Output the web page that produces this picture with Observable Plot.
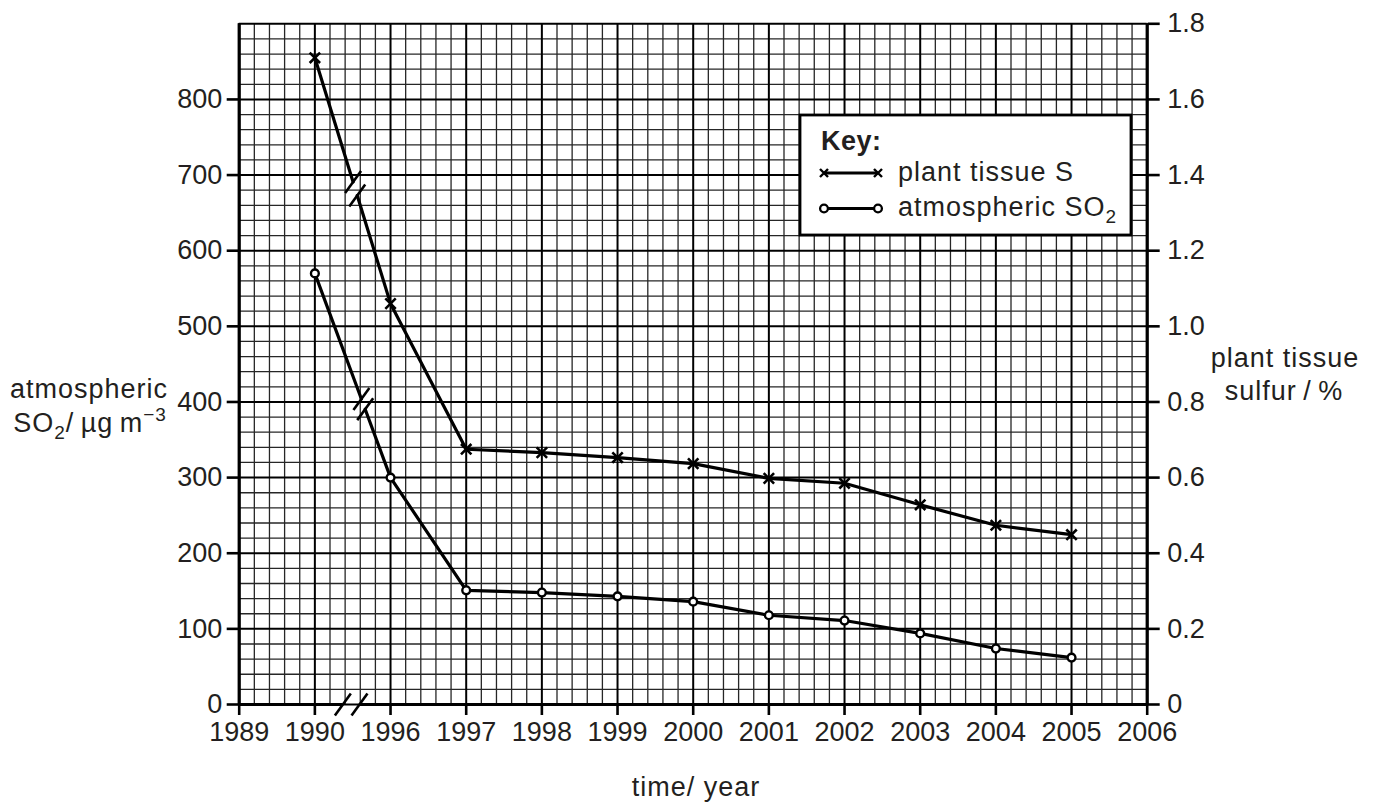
<!DOCTYPE html>
<html>
<head>
<meta charset="utf-8">
<script src="https://cdn.jsdelivr.net/npm/d3@7"></script>
<script src="https://cdn.jsdelivr.net/npm/@observablehq/plot@0.6"></script>
<style>
  body { margin: 0; background: #fff; }
  #wrap { width: 1375px; height: 806px; }
</style>
</head>
<body>
<div id="wrap"></div>
<script>
// ---------- data ----------
const yearLabels = ["1989", "1990", "1996", "1997", "1998", "1999", "2000", "2001", "2002", "2003", "2004", "2005", "2006"];
const dataYears  = ["1990", "1996", "1997", "1998", "1999", "2000", "2001", "2002", "2003", "2004", "2005"];
const plantS     = [1.71, 1.06, 0.675, 0.666, 0.653, 0.637, 0.598, 0.585, 0.528, 0.474, 0.449]; // % (right axis)
const atmSO2     = [570, 300, 151, 148, 143, 136, 118, 111, 94, 74, 62];                          // µg m-3 (left axis)
const leftTicks  = [0, 100, 200, 300, 400, 500, 600, 700, 800];
const rightTicks = [0, 0.2, 0.4, 0.6, 0.8, 1.0, 1.2, 1.4, 1.6, 1.8];
const leftMax = 900, rightMax = 1.8;
// axis-break markers (fractions of the 1990–1996 span / index positions on the x axis)
const axisBreak  = [1.37, 1.59];
const plantBreak = [0.505, 0.56];
const so2Break   = [0.615, 0.665];

// ---------- styling ----------
const INK = "#231f20";
const FONT = "'Liberation Sans', Arial, Helvetica, sans-serif";

const ratio = leftMax / rightMax;
const n = yearLabels.length;
const xi = yr => yearLabels.indexOf(yr);

const plantPts = dataYears.map((yr, i) => ({x: xi(yr), y: plantS[i] * ratio}));
const so2Pts   = dataYears.map((yr, i) => ({x: xi(yr), y: atmSO2[i]}));

function lerp(a, b, t) { return {x: a.x + t * (b.x - a.x), y: a.y + t * (b.y - a.y)}; }
function withBreak(pts, br) {
  const a = pts[0], b = pts[1];
  return [a, lerp(a, b, br[0]), {x: NaN, y: NaN}, lerp(a, b, br[1]), ...pts.slice(1)];
}
const breakMarks = [
  ...axisBreak.map(x => ({x, y: 0})),
  ...plantBreak.map(t => lerp(plantPts[0], plantPts[1], t)),
  ...so2Break.map(t => lerp(so2Pts[0], so2Pts[1], t))
];

// single slash symbol for break marks
const slash = {
  draw(ctx, size) {
    const r = Math.sqrt(size / Math.PI);
    ctx.moveTo(-0.59 * r, 0.81 * r);
    ctx.lineTo(0.59 * r, -0.81 * r);
  }
};

const minorX = d3.range(0, (n - 1) * 5 + 1).filter(k => k % 5 !== 0).map(k => k / 5);
const majorX = d3.range(0, n);
const minorY = d3.range(0, leftMax / 20 + 1).filter(k => k % 5 !== 0).map(k => k * 20);
const majorY = d3.range(0, leftMax / 100 + 1).map(k => k * 100);

const chart = Plot.plot({
  width: 1375,
  height: 806,
  marginLeft: 238.7,
  marginRight: 228.3,
  marginTop: 23.3,
  marginBottom: 102,
  style: {fontFamily: FONT, fontSize: "27px", color: INK, background: "white", overflow: "visible"},
  x: {type: "linear", domain: [0, n - 1], axis: null, label: null},
  y: {domain: [0, leftMax], axis: null, label: null},
  marks: [
    // graph-paper grid
    Plot.ruleX(minorX, {stroke: "#262626", strokeWidth: 1.3}),
    Plot.ruleY(minorY, {stroke: "#262626", strokeWidth: 1.3}),
    Plot.ruleX(majorX, {stroke: "#000", strokeWidth: 2}),
    Plot.ruleY(majorY, {stroke: "#000", strokeWidth: 2}),
    // axis lines
    Plot.ruleX([0, n - 1], {stroke: "#000", strokeWidth: 3.2}),
    Plot.ruleY([{x1: 0, x2: axisBreak[0]}, {x1: axisBreak[1], x2: n - 1}],
               {y: d => 0, x1: "x1", x2: "x2", stroke: "#000", strokeWidth: 3.2}),
    // ticks & labels
    Plot.axisX(majorX, {anchor: "bottom", tickFormat: i => yearLabels[i], tickSize: 11, tickPadding: 6,
                        strokeWidth: 2.6, stroke: "#000", fill: INK, fontSize: 27, label: null}),
    Plot.axisY(leftTicks, {anchor: "left", tickSize: 12, tickPadding: 5, strokeWidth: 2.6, stroke: "#000",
                           fill: INK, fontSize: 27, label: null}),
    Plot.axisY(rightTicks.map(v => v * ratio), {anchor: "right", tickSize: 12, tickPadding: 8, strokeWidth: 2.6,
                           stroke: "#000", fill: INK, fontSize: 27, label: null,
                           tickFormat: d => { const v = Math.round(d / ratio * 10) / 10; return v === 0 ? "0" : v.toFixed(1); }}),
    // series lines
    Plot.line(withBreak(plantPts, plantBreak), {x: "x", y: "y", stroke: "#000", strokeWidth: 3.2, strokeLinejoin: "round"}),
    Plot.line(withBreak(so2Pts, so2Break), {x: "x", y: "y", stroke: "#000", strokeWidth: 3.2, strokeLinejoin: "round"}),
    // break marks
    Plot.dot(breakMarks, {x: "x", y: "y", symbol: slash, r: 13.5, fill: "none", stroke: "#000", strokeWidth: 2.6}),
    // markers
    Plot.dot(plantPts, {x: "x", y: "y", symbol: "times", r: 4.8, stroke: "#000", strokeWidth: 2.6}),
    Plot.dot(so2Pts, {x: "x", y: "y", symbol: "circle", r: 3.9, fill: "white", stroke: "#000", strokeWidth: 2.4})
  ]
});

// ---------- titles and key ----------
const svg = d3.select(chart);
const g = svg.append("g").attr("font-family", FONT).attr("fill", INK).attr("font-size", 27)
  .attr("letter-spacing", 1).attr("text-anchor", "middle");

// left axis title
g.append("text").attr("x", 89).attr("y", 398).text("atmospheric");
const l2 = g.append("text").attr("x", 90).attr("y", 432);
l2.append("tspan").text("SO");
l2.append("tspan").attr("dy", 7).attr("font-size", 19).text("2");
l2.append("tspan").attr("dy", -7).text("/\u2009\u00b5g\u2009m");
l2.append("tspan").attr("dy", -11).attr("font-size", 19).text("\u22123");

// right axis title
g.append("text").attr("x", 1285).attr("y", 367).text("plant tissue");
g.append("text").attr("x", 1284).attr("y", 400).text("sulfur\u2009/\u2009%");

// x axis title
g.append("text").attr("x", 696).attr("y", 796).text("time/ year");

// key
const k = svg.append("g").attr("font-family", FONT).attr("fill", INK).attr("font-size", 27)
  .attr("letter-spacing", 1).attr("text-anchor", "start");
k.append("rect").attr("x", 800).attr("y", 115).attr("width", 331).attr("height", 120)
  .attr("fill", "white").attr("stroke", "#000").attr("stroke-width", 2.8);
k.append("text").attr("x", 821).attr("y", 150).attr("font-weight", "bold").attr("letter-spacing", 0.5).text("Key:");
// plant tissue S sample
k.append("line").attr("x1", 824).attr("x2", 878).attr("y1", 173).attr("y2", 173).attr("stroke", "#000").attr("stroke-width", 3);
[824, 878].forEach(x => {
  k.append("path").attr("d", `M${x-4},${173-4}L${x+4},${173+4}M${x-4},${173+4}L${x+4},${173-4}`)
    .attr("stroke", "#000").attr("stroke-width", 2.4).attr("fill", "none");
});
k.append("text").attr("x", 898).attr("y", 181).text("plant tissue S");
// atmospheric SO2 sample
k.append("line").attr("x1", 824).attr("x2", 878).attr("y1", 208.5).attr("y2", 208.5).attr("stroke", "#000").attr("stroke-width", 3);
[824, 878].forEach(x => {
  k.append("circle").attr("cx", x).attr("cy", 208.5).attr("r", 3.9).attr("fill", "white").attr("stroke", "#000").attr("stroke-width", 2.3);
});
const st = k.append("text").attr("x", 898).attr("y", 216);
st.append("tspan").text("atmospheric SO");
st.append("tspan").attr("dy", 7).attr("font-size", 19).text("2");

document.getElementById("wrap").appendChild(chart);
</script>
</body>
</html>
